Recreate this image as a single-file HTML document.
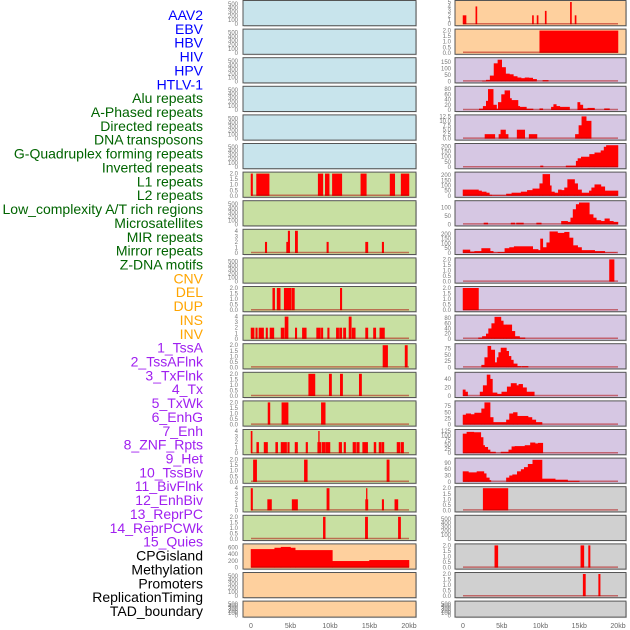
<!DOCTYPE html>
<html><head><meta charset="utf-8"><style>
html,body{margin:0;padding:0;background:#fff;}
svg{display:block;font-family:"Liberation Sans",sans-serif;}
</style></head><body>
<svg id="chart" width="630" height="630" viewBox="0 0 630 630" xmlns="http://www.w3.org/2000/svg"></svg>
<script>
// ---------- data ----------
const trackLabels = ["AAV2","EBV","HBV","HIV","HPV","HTLV-1","Alu repeats","A-Phased repeats","Directed repeats","DNA transposons","G-Quadruplex forming repeats","Inverted repeats","L1 repeats","L2 repeats","Low_complexity A/T rich regions","Microsatellites","MIR repeats","Mirror repeats","Z-DNA motifs","CNV","DEL","DUP","INS","INV","1_TssA","2_TssAFlnk","3_TxFlnk","4_Tx","5_TxWk","6_EnhG","7_Enh","8_ZNF_Rpts","9_Het","10_TssBiv","11_BivFlnk","12_EnhBiv","13_ReprPC","14_ReprPCWk","15_Quies","CPGisland","Methylation","Promoters","ReplicationTiming","TAD_boundary"];
const xTickValues = [0,5,10,15,20];
const xTickLabels = ["0","5kb","10kb","15kb","20kb"];
const ticksEmpty = ["0","100","200","300","400","500"];
const ticks2 = ["0.0","0.5","1.0","1.5","2.0"];
const ticks4 = ["0","1","2","3","4"];
const ticks5 = ["0","1","2","3","4","5"];

// segments: [startKb, endKb, value]
const segL6 = [[0,0.2,2],[0.7,2.3,2],[8.5,9.1,2],[9.4,9.9,2],[10.3,11.5,2],[13.9,14.6,2],[17.6,18.2,2],[19,20,2]];
const segL8 = [[1.8,2.0,2],[4.5,4.7,2],[4.7,4.9,4],[5.6,5.9,4],[9.6,9.8,2],[14.5,14.8,2],[16.6,16.8,2]];
const segL10 = [[2.75,3.0,2],[3.3,3.7,2],[4.2,5.1,2],[5.2,5.5,2],[11.3,11.5,2]];
const segL11 = [[0,0.4,2],[0.6,0.8,2],[1.0,1.6,2],[1.9,2.1,2],[2.4,2.9,2],[3.8,4.2,2],[4.3,4.7,4],[5.6,5.8,2],[6.5,7.0,2],[8.3,8.8,2],[8.9,9.1,2],[9.7,9.9,2],[10.8,11.1,2],[11.2,11.5,2],[11.7,12.0,2],[12.4,12.7,4],[12.8,13.2,2],[14.5,14.8,2],[15.5,15.8,2],[16.3,16.9,2]];
const segL12 = [[16.7,17.3,2],[19.5,19.8,2]];
const segL13 = [[7.3,8.1,2],[9.9,10.2,2],[11.3,11.6,2],[13.7,14.0,2]];
const segL14 = [[2.15,2.4,2],[3.9,4.7,2],[8.9,9.4,2]];
const segL15 = [[0,0.15,4],[0.72,0.97,2],[1.65,2.1,2],[3.12,3.38,2],[3.8,4.51,2],[4.64,4.85,2],[5.57,5.9,2],[6.96,7.17,2],[8.44,8.86,2],[8.55,8.65,4],[8.99,9.41,2],[9.49,10.0,2],[11.14,11.48,2],[11.77,11.98,2],[12.9,13.25,2],[13.37,13.71,2],[14.13,14.77,2],[15.57,15.82,2],[16.2,16.45,2],[16.54,16.83,2],[18.48,18.86,2],[18.99,19.32,2]];
const segL16 = [[0.3,0.72,2],[6.75,7.13,2],[17.2,17.5,2]];
const segL17 = [[0,0.2,4],[2.1,2.6,2],[5.2,5.9,2],[9.6,9.9,4],[14.5,14.8,2],[14.6,14.7,4],[16.6,16.8,2],[18.2,18.6,2]];
const segL18 = [[9.15,9.4,2],[14.47,14.77,2],[18.65,18.94,2]];
const segL19 = [[0,3,550],[3,3.8,590],[3.8,5,615],[5,5.6,590],[5.6,10.3,520],[10.3,15,195],[15,20,225]];

const segR0 = [[0,0.4,2],[1.65,1.8,4],[8.95,9.1,2],[9.55,9.7,2],[10.6,10.75,3],[13.85,14.0,5],[14.45,14.6,2]];
const segR1 = [[9.9,20,2]];
const segR2 = [[2.5,3,5],[3,3.5,12],[3.5,4,45],[4,4.5,140],[4.5,5,168],[5,5.5,110],[5.5,6,60],[6,6.5,55],[6.5,7,40],[7,7.5,30],[7.5,8,25],[8,8.5,30],[8.5,9,28],[9,9.5,18],[10.3,11,10]];
const segR3 = [[2.1,2.6,5],[2.6,3.0,15],[3.0,3.26,35],[3.26,3.9,80],[3.9,4.33,20],[4.33,4.55,5],[4.55,4.97,30],[4.97,5.4,60],[5.4,6.04,75],[6.04,6.26,45],[6.26,7.1,38],[7.1,7.33,15],[7.33,8.18,12],[8.18,9.04,5],[9.9,10.3,6],[11.4,11.7,12],[11.7,12.04,22],[12.04,12.5,15],[12.5,13.75,12],[14.8,15.1,30],[15.1,15.47,20],[15.47,16.1,6],[16.1,16.97,8],[18.25,18.9,6]];
const segR4 = [[2.83,4.11,2.5],[4.63,4.88,2.5],[4.88,5.49,5],[5.49,5.83,2.5],[6.98,7.97,5],[8.53,9.55,2.5],[14.5,14.95,2.5],[14.95,15.33,7.5],[15.33,15.9,12.5],[15.9,16.54,10]];
const segR5 = [[10.0,10.33,15],[13.3,14.6,15],[14.6,14.83,60],[14.83,15.26,85],[15.26,16.33,100],[16.33,17.0,125],[17.0,17.8,140],[17.8,18.2,160],[18.2,18.5,195],[18.5,20,210]];
const segR6 = [[0,2.0,60],[2.0,2.4,50],[2.4,3.0,40],[3.0,3.4,30],[3.4,3.7,10],[3.7,5.5,5],[5.6,6.3,20],[6.3,7.5,30],[7.5,8.3,40],[8.3,9.0,55],[9.0,9.9,70],[9.9,10.3,120],[10.3,11.2,210],[11.2,11.4,100],[11.4,11.8,40],[11.8,12.3,30],[12.3,12.7,60],[12.7,13.1,55],[13.1,13.5,80],[13.5,14.4,160],[14.4,14.8,120],[14.8,15.3,60],[15.3,16.3,30],[16.3,16.6,50],[16.6,17.0,80],[17.0,17.8,110],[17.8,18.3,90],[18.3,20,50]];
const segR7 = [[2.7,3.2,10],[6.2,6.7,10],[6.9,7.8,10],[9.5,10.1,10],[12.7,13.5,20],[13.5,13.9,15],[13.9,14.2,40],[14.2,14.6,90],[14.6,15.0,120],[15.0,16.3,130],[16.3,16.8,60],[16.8,17.2,40],[17.2,17.8,25],[17.8,18.3,20],[18.3,18.9,35],[18.9,19.4,20],[19.4,20,15]];
const segR8 = [[0,0.9,35],[0.9,1.5,15],[1.5,2.4,20],[2.4,3.5,50],[3.5,3.9,20],[3.9,4.5,5],[4.5,5.4,10],[5.4,6.0,50],[6.0,6.6,60],[6.6,9.0,70],[9.0,9.7,40],[9.7,10.0,30],[10.0,10.3,150],[10.3,10.8,60],[10.8,11.2,110],[11.2,12.2,225],[12.2,13.1,210],[13.1,13.7,220],[13.7,14.2,160],[14.2,14.8,80],[14.8,15.3,60],[15.3,17.0,30],[17.0,18.3,20],[18.3,19.8,5]];
const segR9 = [[18.9,19.5,2]];
const segR10 = [[0,2.0,2]];
const segR11 = [[2.0,2.5,5],[2.5,3.0,10],[3.0,3.3,20],[3.3,3.7,40],[3.7,4.1,60],[4.1,4.9,85],[4.9,5.2,70],[5.2,5.6,55],[5.6,6.3,55],[6.3,6.7,30],[6.7,7.3,10],[7.3,8.0,5]];
const segR12 = [[2.4,2.8,10],[2.8,3.2,40],[3.2,3.6,85],[3.6,4.1,70],[4.1,4.4,20],[4.4,4.6,40],[4.6,4.9,60],[4.9,5.6,78],[5.6,5.9,65],[5.9,6.2,45],[6.2,6.5,30],[6.5,7.0,15],[7.0,7.5,5],[7.6,8.4,5]];
const segR13 = [[0,0.3,15],[0.3,0.6,10],[2.2,2.6,10],[2.6,3.1,25],[3.1,3.5,50],[3.5,3.8,40],[3.8,4.4,8],[4.4,5.0,5],[5.0,5.7,10],[5.7,6.2,22],[6.2,6.9,30],[6.9,7.2,25],[7.2,7.7,28],[7.7,8.2,20],[8.2,9.2,10]];
const segR14 = [[0,0.4,40],[0.4,1.0,45],[1.0,1.5,42],[1.5,2.4,48],[2.4,2.8,65],[2.8,3.5,90],[3.5,3.9,30],[3.9,5.6,10],[5.6,6.0,20],[6.0,6.5,45],[6.5,7.0,50],[7.0,8.4,35],[8.4,8.9,30],[8.9,9.4,20],[9.4,10.2,10]];
const segR15 = [[0,0.5,110],[0.5,1.4,120],[1.4,2.3,118],[2.3,2.6,90],[2.6,2.8,45],[2.8,3.2,35],[3.2,3.5,20],[3.5,4.2,8],[4.9,5.9,8],[5.9,6.3,20],[6.3,6.7,38],[6.7,8.0,40],[8.0,8.7,45],[8.7,9.3,60],[9.3,9.7,55],[9.7,10.3,58]];
const segR16 = [[0,0.7,50],[0.7,1.8,45],[1.8,2.7,50],[2.7,3.0,40],[3.0,3.4,20],[3.4,3.6,8],[5.6,6.0,20],[6.0,6.4,30],[6.4,7.0,35],[7.0,7.5,50],[7.5,7.9,60],[7.9,8.4,70],[8.4,9.0,85],[9.0,10.2,105],[10.2,11.9,15],[11.9,13.5,10],[13.5,15.0,5]];
const segR17 = [[2.6,5.8,2]];
const segR19 = [[4.1,4.5,2],[15.2,15.6,2],[16.2,16.4,2]];
const segR20 = [[15.5,15.8,2],[17.5,17.7,2]];

// ---------- layout / config ----------
const NS = "http://www.w3.org/2000/svg";
const svg = document.getElementById("chart");
const COLS = [{x0:243, x1:416, kb0:251, kb20:409, tx:238}, {x0:455, x1:626, kb0:463, kb20:618, tx:451}];
const BG = {blue:"#c8e4ec", green:"#c8e0a2", orange:"#fed09e", purple:"#d6c7e3", gray:"#d0d0d0"};
const E = null;
const panels = [
  [0,"blue",E,550,ticksEmpty,[0,100,200,300,400,500]],
  [0,"blue",E,550,ticksEmpty,[0,100,200,300,400,500]],
  [0,"blue",E,550,ticksEmpty,[0,100,200,300,400,500]],
  [0,"blue",E,550,ticksEmpty,[0,100,200,300,400,500]],
  [0,"blue",E,550,ticksEmpty,[0,100,200,300,400,500]],
  [0,"blue",E,550,ticksEmpty,[0,100,200,300,400,500]],
  [0,"green",segL6,2,ticks2,[0,0.5,1,1.5,2]],
  [0,"green",E,550,ticksEmpty,[0,100,200,300,400,500]],
  [0,"green",segL8,4,ticks4,[0,1,2,3,4]],
  [0,"green",E,550,ticksEmpty,[0,100,200,300,400,500]],
  [0,"green",segL10,2,ticks2,[0,0.5,1,1.5,2]],
  [0,"green",segL11,4,ticks4,[0,1,2,3,4]],
  [0,"green",segL12,2,ticks2,[0,0.5,1,1.5,2]],
  [0,"green",segL13,2,ticks2,[0,0.5,1,1.5,2]],
  [0,"green",segL14,2,ticks2,[0,0.5,1,1.5,2]],
  [0,"green",segL15,4,ticks4,[0,1,2,3,4]],
  [0,"green",segL16,2,ticks2,[0,0.5,1,1.5,2]],
  [0,"green",segL17,4,ticks4,[0,1,2,3,4]],
  [0,"green",segL18,2,ticks2,[0,0.5,1,1.5,2]],
  [0,"orange",segL19,660,["0","200","400","600"],[0,200,400,600]],
  [0,"orange",E,550,ticksEmpty,[0,100,200,300,400,500]],
  [0,"orange",E,550,ticksEmpty,[0,100,200,300,400,500]],
  [1,"orange",segR0,5,ticks5,[0,1,2,3,4,5]],
  [1,"orange",segR1,2,ticks2,[0,0.5,1,1.5,2]],
  [1,"purple",segR2,172,["0","50","100","150"],[0,50,100,150]],
  [1,"purple",segR3,85,["0","20","40","60","80"],[0,20,40,60,80]],
  [1,"purple",segR4,12.5,["0.0","2.5","5.0","7.5","10.0","12.5"],[0,2.5,5,7.5,10,12.5]],
  [1,"purple",segR5,212,["0","50","100","150","200"],[0,50,100,150,200]],
  [1,"purple",segR6,215,["0","50","100","150","200"],[0,50,100,150,200]],
  [1,"purple",segR7,132,["0","50","100"],[0,50,100]],
  [1,"purple",segR8,232,["0","50","100","150","200"],[0,50,100,150,200]],
  [1,"purple",segR9,2,ticks2,[0,0.5,1,1.5,2]],
  [1,"purple",segR10,2,ticks2,[0,0.5,1,1.5,2]],
  [1,"purple",segR11,86,["0","20","40","60","80"],[0,20,40,60,80]],
  [1,"purple",segR12,88,["0","25","50","75"],[0,25,50,75]],
  [1,"purple",segR13,52,["0","20","40"],[0,20,40]],
  [1,"purple",segR14,90,["0","25","50","75"],[0,25,50,75]],
  [1,"purple",segR15,125,["0","25","50","75","100","125"],[0,25,50,75,100,125]],
  [1,"purple",segR16,106,["0","30","60","90"],[0,30,60,90]],
  [1,"gray",segR17,2,ticks2,[0,0.5,1,1.5,2]],
  [1,"gray",E,550,ticksEmpty,[0,100,200,300,400,500]],
  [1,"gray",segR19,2,ticks2,[0,0.5,1,1.5,2]],
  [1,"gray",segR20,2,ticks2,[0,0.5,1,1.5,2]],
  [1,"gray",E,550,ticksEmpty,[0,100,200,300,400,500]]
];

function mk(tag, attrs){ const el=document.createElementNS(NS,tag); for(const k in attrs) el.setAttribute(k,attrs[k]); return el; }

const LABEL_COLORS = ["#0000ff","#006400","#ffa500","#a020f0","#000000"];
trackLabels.forEach((t,i)=>{
  const g = i<6?0: i<19?1: i<24?2: i<39?3:4;
  const el = mk("text",{x:203,y:15+i*13.86+5,"text-anchor":"end","font-size":"14",fill:LABEL_COLORS[g]});
  el.textContent = t;
  
  
  svg.appendChild(el);
});

panels.forEach((p,idx)=>{
  const [ci,bg,segs,ymax,tickLabels,tickVals] = p;
  const col = COLS[ci];
  const row = idx % 22;
  const top = 0.5 + row*28.6;
  const h = row===21 ? 16 : 25.2;
  const plotTop = top+1.5, plotBot = top+h-1.5;
  const yS = v => plotBot - (v/ymax)*(plotBot-plotTop);
  const xS = kb => col.kb0 + (kb/20)*(col.kb20-col.kb0);
  const g = mk("g",{});
  
  
  svg.appendChild(g);
  g.appendChild(mk("rect",{x:col.x0+1,y:top+1,width:col.x1-col.x0,height:h,fill:"#999",opacity:"0.35"}));
  const bgr = mk("rect",{x:col.x0,y:top,width:col.x1-col.x0,height:h,fill:BG[bg],stroke:"#555","stroke-width":"1"});
  
  
  g.appendChild(bgr);
  tickVals.forEach((v,k)=>{
    const tEl = mk("text",{x:col.tx,y:yS(v)+2,"text-anchor":"end","font-size":"6",fill:"#777"});
    tEl.textContent = tickLabels[k];
    
    
    g.appendChild(tEl);
  });
  if(segs){
    segs.forEach(s=>{
      const r = mk("rect",{x:xS(s[0])-0.25,y:yS(s[2]),width:Math.max(1.2,xS(s[1])-xS(s[0])+0.5),height:yS(0)-yS(s[2]),fill:"#ff0000"});
      
      
      g.appendChild(r);
    });
    const bl = mk("line",{x1:xS(0),x2:xS(20),y1:yS(0)-0.5,y2:yS(0)-0.5,stroke:"#b00000","stroke-width":"1.5",opacity:"0.5"});
    
    
    g.appendChild(bl);
  }
});

COLS.forEach(col=>{
  xTickValues.forEach((v,k)=>{
    const x = col.kb0 + (v/20)*(col.kb20-col.kb0);
    const t = mk("text",{x:x,y:628,"text-anchor":"middle","font-size":"7",fill:"#666"});
    t.textContent = xTickLabels[k];
    
    
    svg.appendChild(t);
  });
});
</script>
</body></html>
